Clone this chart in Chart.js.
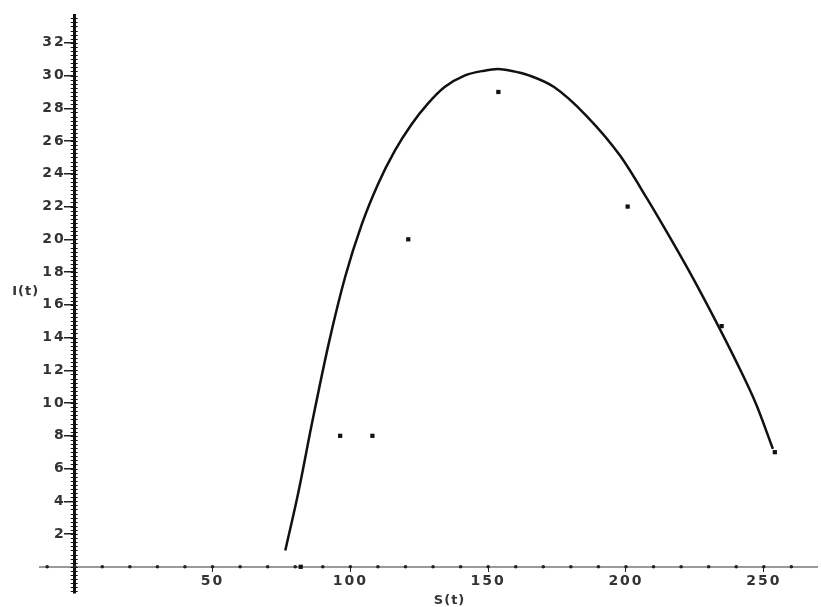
<!DOCTYPE html>
<html>
<head>
<meta charset="utf-8">
<script src="https://cdn.jsdelivr.net/npm/chart.js@4"></script>
<style>
  html, body { margin: 0; padding: 0; background: #ffffff; }
  #wrap { width: 821px; height: 607px; position: relative; }
</style>
</head>
<body>
<div id="wrap"><canvas id="grafico"></canvas></div>
<script>
// Curva S(t) vs I(t)
const curvaS = [76.4, 81.2, 86.0, 92.1, 98.1, 104.1, 110.1, 116.1, 122.1, 128.2, 134.2, 141.4, 148.6,
                153.5, 158.2, 165.0, 173.9, 185.9, 197.9, 207.6, 216.0, 224.4, 232.9, 240.1, 247.3, 253.3];
const curvaI = [1.0, 4.6, 8.7, 13.6, 17.7, 20.9, 23.4, 25.4, 27.0, 28.3, 29.3, 30.0, 30.3,
                30.4, 30.3, 30.0, 29.3, 27.5, 25.1, 22.5, 20.1, 17.6, 14.9, 12.5, 9.9, 7.2];

// Datos observados
const datosS = [82, 96.3, 108, 121, 153.7, 200.6, 234.7, 254];
const datosI = [0, 8, 8, 20, 29, 22, 14.7, 7];

const tituloX = 'S(t)';
const tituloY = 'I(t)';

const curva = curvaS.map((s, i) => ({ x: s, y: curvaI[i] }));
const puntos = datosS.map((s, i) => ({ x: s, y: datosI[i] }));

// Marcas menores y titulos de ejes
const ejesPlugin = {
  id: 'ejesMaple',
  beforeDraw(chart) {
    chart.ctx.letterSpacing = '2px';
  },
  afterDraw(chart) {
    const { ctx } = chart;
    const sx = chart.scales.x;
    const sy = chart.scales.y;
    const x0 = sx.getPixelForValue(0);
    const y0 = sy.getPixelForValue(0);
    ctx.save();
    ctx.strokeStyle = '#111';
    ctx.lineWidth = 1;
    for (let v = Math.ceil(sy.min * 4) / 4; v <= sy.max; v += 0.25) {
      const py = Math.round(sy.getPixelForValue(v)) + 0.5;
      ctx.beginPath();
      ctx.moveTo(x0 - 4, py);
      ctx.lineTo(x0 + 3, py);
      ctx.stroke();
    }
    ctx.fillStyle = '#222';
    for (let v = -10; v <= sx.max; v += 10) {
      ctx.beginPath();
      ctx.arc(sx.getPixelForValue(v), y0, 1.8, 0, Math.PI * 2);
      ctx.fill();
    }
    ctx.letterSpacing = '1px';
    ctx.font = 'bold 13px "DejaVu Sans"';
    ctx.fillStyle = '#333';
    ctx.textAlign = 'center';
    ctx.textBaseline = 'middle';
    ctx.fillText(tituloX, sx.getPixelForValue(136), y0 + 34);
    ctx.fillText(tituloY, x0 - 49, sy.getPixelForValue(16.8));
    ctx.restore();
  },
};

const ctx = document.getElementById('grafico').getContext('2d');
new Chart(ctx, {
  type: 'scatter',
  data: {
    datasets: [
      {
        label: 'curva',
        data: curva,
        showLine: true,
        borderColor: '#111111',
        borderWidth: 2.5,
        cubicInterpolationMode: 'monotone',
        pointRadius: 0,
      },
      {
        label: 'datos',
        data: puntos,
        showLine: false,
        pointStyle: 'rect',
        pointRadius: 3,
        backgroundColor: '#111111',
        borderColor: '#111111',
        borderWidth: 0,
      },
    ],
  },
  options: {
    responsive: true,
    maintainAspectRatio: false,
    animation: false,
    clip: false,
    layout: { padding: { left: 40, right: 0, top: 15, bottom: 14 } },
    plugins: {
      legend: { display: false },
      tooltip: { enabled: false },
    },
    scales: {
      x: {
        type: 'linear',
        position: { y: 0 },
        min: -12.6,
        max: 269.3,
        grid: {
          drawOnChartArea: false,
          drawTicks: true,
          tickLength: 4,
          color: (c) => (c.tick && c.tick.value === 0 ? 'rgba(0,0,0,0)' : '#222'),
        },
        border: { display: true, color: '#9a9a9a', width: 2 },
        ticks: {
          stepSize: 50,
          includeBounds: false,
          maxRotation: 0,
          padding: 2,
          color: '#333',
          font: { family: 'DejaVu Sans', size: 14, weight: 'bold' },
          callback: (v) => (v === 0 ? '' : v),
        },
      },
      y: {
        type: 'linear',
        position: { x: 0 },
        min: -1.6,
        max: 33.7,
        grid: {
          drawOnChartArea: false,
          drawTicks: true,
          tickLength: 9,
          lineWidth: 1.5,
          color: (c) => (c.tick && c.tick.value === 0 ? 'rgba(0,0,0,0)' : '#222'),
        },
        border: { display: true, color: '#111111', width: 3 },
        ticks: {
          stepSize: 2,
          includeBounds: false,
          color: '#333',
          font: { family: 'DejaVu Sans', size: 14, weight: 'bold' },
          // el eje centrado ignora el padding: se separa con un espacio
          callback: (v) => (v === 0 ? '' : v + '\u2002'),
        },
      },
    },
  },
  plugins: [ejesPlugin],
});
</script>
</body>
</html>
